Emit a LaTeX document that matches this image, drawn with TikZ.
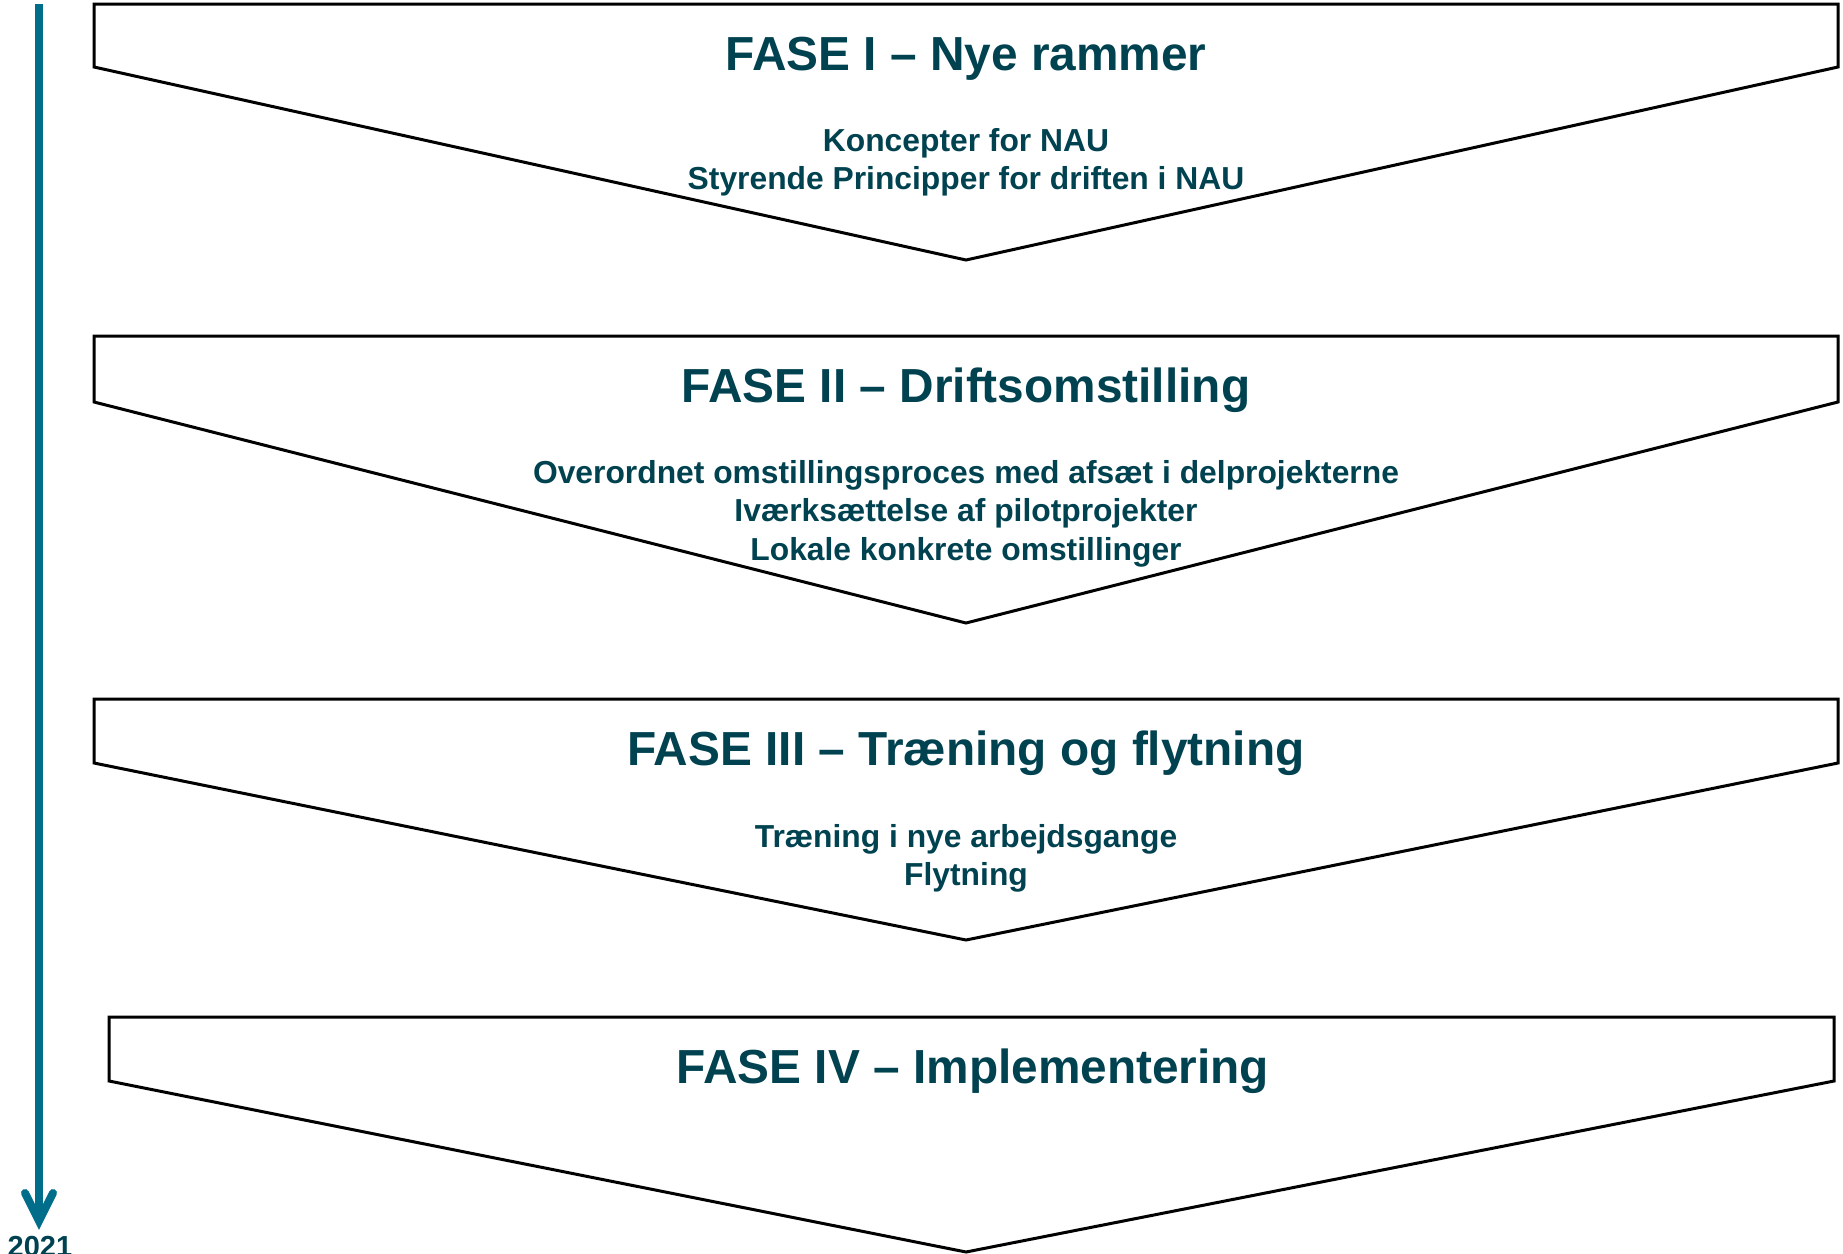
\documentclass[tikz,border=0pt]{standalone}
\usepackage{fontspec}
\setmainfont{Liberation Sans}
\usetikzlibrary{calc}
\definecolor{txtc}{RGB}{0,66,80}
\definecolor{arrc}{RGB}{0,110,138}
\tikzset{
  phase/.style={draw=black,line width=3pt,line join=miter,fill=white},
  title/.style={anchor=base,inner sep=0pt,text=txtc,font=\bfseries\fontsize{47.8}{57}\selectfont},
  sub/.style={anchor=base,inner sep=0pt,text=txtc,font=\bfseries\fontsize{31.8}{38}\selectfont},
  timeline/.style={draw=arrc,line width=8pt},
}
\begin{document}
\begin{tikzpicture}[x=1pt,y=-1pt]
\useasboundingbox (0,0) rectangle (1843,1253);
\clip (0,0) rectangle (1843,1253);
% phase chevrons
\draw[phase] (94,4) -- (1838,4) -- (1838,67) -- (966,260) -- (94,67) -- cycle;
\draw[phase] (94,336) -- (1838,336) -- (1838,402) -- (966,623) -- (94,402) -- cycle;
\draw[phase] (94,699) -- (1838,699) -- (1838,763) -- (966,940) -- (94,763) -- cycle;
\draw[phase] (109,1017) -- (1834,1017) -- (1834,1081) -- (966,1252) -- (109,1081) -- cycle;
% texts
\node[title] (t1) at (966,70) {FASE I – Nye rammer};
\node[sub] (s11) at (966,151) {Koncepter for NAU};
\node[sub] (s12) at (966,189) {Styrende Principper for driften i NAU};
\node[title] (t2) at (966,402) {FASE II – Driftsomstilling};
\node[sub] (s21) at (966,483) {Overordnet omstillingsproces med afsæt i delprojekterne};
\node[sub] (s22) at (966,521.5) {Iværksættelse af pilotprojekter};
\node[sub] (s23) at (966,560) {Lokale konkrete omstillinger};
\node[title] (t3) at (966,765) {FASE III – Træning og flytning};
\node[sub] (s31) at (966,847) {Træning i nye arbejdsgange};
\node[sub] (s32) at (966,885.5) {Flytning};
\node[title] (t4) at (973,1083) {FASE IV – Implementering};
% timeline
\coordinate (tstart) at (39,4);
\coordinate (ttip) at (39,1221);
\draw[timeline] (tstart) -- (ttip);
\draw[timeline,line cap=round,line join=miter] ($(ttip)+(-14,-28)$) -- (ttip) -- ($(ttip)+(14,-28)$);
\node[anchor=base,inner sep=0pt,text=txtc,font=\bfseries\fontsize{29}{34}\selectfont] (year) at (40,1256) {2021};
\end{tikzpicture}
\end{document}
